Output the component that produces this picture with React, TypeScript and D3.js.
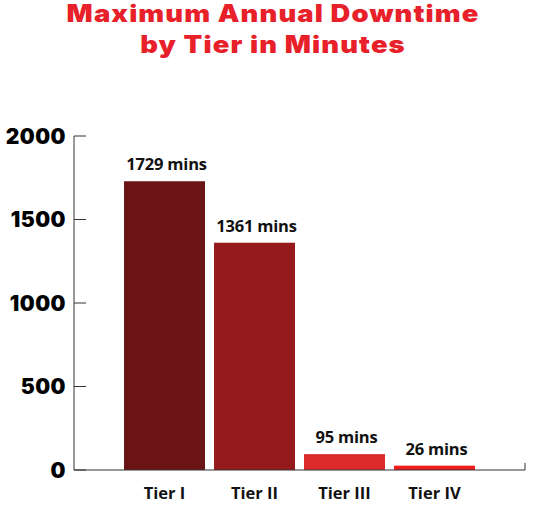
import { useRef, useEffect } from "react";
import * as d3 from "d3";

const tiers = ["Tier I", "Tier II", "Tier III", "Tier IV"];
const minutes = [1729, 1361, 95, 26];
const barColors = ["#6a1416", "#961a1c", "#dc2a2b", "#f21d1d"];
const yTicks = [0, 500, 1000, 1500, 2000];
const titleLines = ["Maximum Annual Downtime", "by Tier in Minutes"];

export default function App() {
  const svgRef = useRef<SVGSVGElement>(null);

  useEffect(() => {
    if (!svgRef.current) return;
    const svg = d3.select(svgRef.current);
    svg.selectAll("*").remove();

    const width = 546;
    const left = 74;
    const right = 525;
    const top = 136;
    const bottom = 470;

    const x = d3
      .scaleBand<string>()
      .domain(tiers)
      .range([left, right])
      .paddingInner(0.1)
      .paddingOuter(0.556);
    const y = d3.scaleLinear().domain([0, 2000]).range([bottom, top]);

    // Title (stretched a bit to get the wide heavy look)
    const stretch = 1.14;
    svg
      .append("g")
      .attr("transform", `scale(${stretch},1)`)
      .selectAll("text")
      .data(titleLines)
      .join("text")
      .attr("x", width / 2 / stretch)
      .attr("y", (_, i) => 22 + i * 31)
      .attr("text-anchor", "middle")
      .attr("fill", "#e8202a")
      .attr("font-family", "Inter, 'DejaVu Sans', sans-serif")
      .attr("font-weight", 900)
      .attr("font-size", "24px")
      .attr("letter-spacing", "1px")
      .text((d) => d);

    // Bars
    svg
      .append("g")
      .selectAll("rect")
      .data(minutes)
      .join("rect")
      .attr("x", (_, i) => x(tiers[i])!)
      .attr("y", (d) => y(d))
      .attr("width", x.bandwidth())
      .attr("height", (d) => bottom - y(d))
      .attr("fill", (_, i) => barColors[i]);

    // Value labels
    svg
      .append("g")
      .selectAll("text")
      .data(minutes)
      .join("text")
      .attr("x", (_, i) => x(tiers[i])! + x.bandwidth() / 2 + 2)
      .attr("y", (d) => y(d) - 11)
      .attr("text-anchor", "middle")
      .attr("fill", "#111")
      .attr("font-family", "'Open Sans', sans-serif")
      .attr("font-weight", 700)
      .attr("font-size", "16.5px")
      .attr("letter-spacing", "-0.2px")
      .text((d) => `${d} mins`);

    // Y axis
    svg
      .append("line")
      .attr("x1", left)
      .attr("x2", left)
      .attr("y1", top)
      .attr("y2", bottom)
      .attr("stroke", "#333")
      .attr("stroke-width", 1);

    const yAxis = svg.append("g");
    yAxis
      .selectAll("line")
      .data(yTicks)
      .join("line")
      .attr("x1", left)
      .attr("x2", left + 12)
      .attr("y1", (d) => y(d))
      .attr("y2", (d) => y(d))
      .attr("stroke", "#333");
    yAxis
      .selectAll("text")
      .data(yTicks)
      .join("text")
      .attr("x", left - 8)
      .attr("y", (d) => y(d))
      .attr("dy", "0.36em")
      .attr("text-anchor", "end")
      .attr("fill", "#000")
      .attr("font-family", "Inter, 'DejaVu Sans', sans-serif")
      .attr("font-weight", 900)
      .attr("font-size", "21px")
      .attr("letter-spacing", "0.5px")
      .text((d) => d);

    // X axis baseline
    svg
      .append("path")
      .attr("d", `M${left},${bottom}H${right}V${bottom - 7}`)
      .attr("fill", "none")
      .attr("stroke", "#333")
      .attr("stroke-width", 1);

    svg
      .append("g")
      .selectAll("text")
      .data(tiers)
      .join("text")
      .attr("x", (d) => x(d)! + x.bandwidth() / 2)
      .attr("y", 499)
      .attr("text-anchor", "middle")
      .attr("fill", "#111")
      .attr("font-family", "'Open Sans', sans-serif")
      .attr("font-weight", 700)
      .attr("font-size", "16.5px")
      .text((d) => d);
  }, []);

  return (
    <svg
      ref={svgRef}
      width={546}
      height={519}
      style={{ position: "absolute", left: 0, top: 0, background: "#fff" }}
    />
  );
}
